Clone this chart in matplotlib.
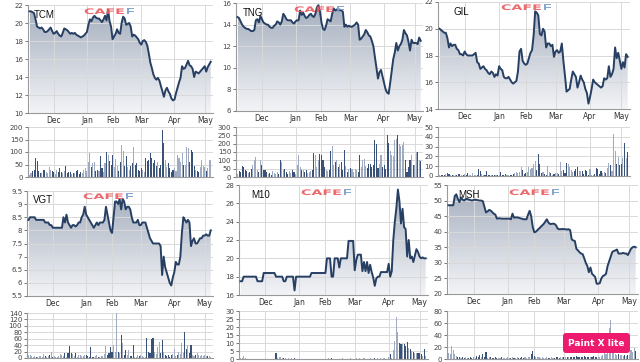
import numpy as np
import matplotlib
matplotlib.use("Agg")
import matplotlib.pyplot as plt
from matplotlib.colors import LinearSegmentedColormap
from matplotlib.patches import Polygon, PathPatch, FancyBboxPatch
from matplotlib.textpath import TextPath
from matplotlib.font_manager import FontProperties
from matplotlib.transforms import Affine2D, IdentityTransform
from matplotlib.ticker import FuncFormatter

# ---- data: one value per trading day, mid Nov -> early May ----
tcm_price = [21.3, 21.3, 21.2, 21.1, 20.4, 19.6, 19.5, 19.4, 19.5, 19.3,
             19.0, 19.0, 19.1, 19.3, 19.5, 19.1, 18.8, 18.9, 19.1, 18.8,
             18.6, 18.5, 18.9, 19.4, 19.3, 19.2, 19.0, 18.8, 18.9, 18.8,
             18.9, 18.7, 18.6, 18.5, 18.4, 18.5, 18.6, 18.8, 19.0, 19.8,
             20.4, 20.2, 20.6, 20.8, 20.6, 20.5, 20.5, 20.3, 20.1, 20.4,
             20.8, 20.3, 21.5, 20.2, 19.6, 18.2, 18.5, 18.8, 19.3, 18.9,
             18.8, 20.0, 20.7, 20.5, 19.8, 19.9, 20.0, 19.6, 18.5, 18.7,
             18.6, 18.4, 18.2, 17.8, 17.6, 18.0, 18.1, 17.9, 17.5, 16.6,
             15.6, 15.0, 14.3, 13.9, 13.7, 13.9, 13.6, 13.0, 12.4, 11.8,
             12.5, 12.8, 12.4, 12.1, 11.6, 11.4, 11.5, 12.2, 12.8, 13.4,
             13.9, 15.2, 14.9, 15.0, 15.4, 15.8, 15.3, 15.2, 14.9, 14.0,
             14.6, 14.5, 14.4, 14.6, 14.8, 15.0, 15.2, 14.6, 15.1, 15.4,
             15.7]
tng_price = [14.7, 14.6, 14.3, 14.0, 13.8, 13.7, 13.6, 13.6, 13.5, 13.4,
             13.4, 13.5, 14.4, 14.5, 14.2, 14.8, 14.5, 14.2, 14.1, 14.0,
             14.0, 13.8, 13.7, 13.7, 13.9, 14.0, 14.3, 14.2, 14.0, 14.3,
             15.0, 14.8, 14.5, 14.4, 14.4, 14.4, 14.2, 14.1, 14.3, 14.4,
             14.4, 15.3, 14.9, 15.1, 14.8, 14.6, 14.7, 14.9, 15.0, 14.8,
             14.7, 15.0, 15.6, 15.8, 15.2, 14.2, 13.6, 13.5, 13.9, 14.5,
             14.4, 14.3, 15.0, 15.5, 15.3, 15.4, 15.3, 15.4, 15.3, 15.2,
             13.8, 14.0, 13.8, 13.9, 13.8, 13.8, 13.9, 14.0, 14.2, 14.0,
             12.6, 12.7, 12.9, 13.1, 13.5, 13.3, 13.0, 12.9, 12.5, 12.0,
             11.0, 10.0, 9.0, 9.6, 9.8, 9.2, 8.6, 8.0, 7.7, 7.6,
             8.6, 9.7, 10.8, 11.4, 12.3, 11.6, 12.0, 12.2, 12.6, 13.5,
             13.2, 13.0, 12.4, 11.6, 12.6, 12.3, 12.3, 12.3, 12.2, 12.8,
             12.5]
gil_price = [20.0, 19.9, 19.8, 19.7, 19.7, 19.3, 18.6, 18.9, 18.7, 18.8,
             18.8, 18.5, 18.4, 18.1, 18.1, 18.0, 18.3, 18.1, 18.0, 18.0,
             18.0, 18.0, 18.1, 18.2, 17.5, 17.4, 17.0, 17.1, 17.2, 17.0,
             16.9, 16.7, 16.6, 16.8, 16.7, 16.4, 16.6, 16.5, 17.2, 17.0,
             16.9, 16.4, 16.3, 16.3, 16.4, 16.2, 16.0, 15.9, 16.0, 16.1,
             16.8, 18.3, 18.5, 17.6, 17.4, 17.3, 17.4, 17.8, 18.2, 18.4,
             19.5, 21.3, 21.2, 21.0, 19.6, 19.5, 20.0, 19.8, 18.6, 18.9,
             18.9, 18.7, 18.8, 17.9, 18.3, 18.4, 18.2, 18.3, 18.9, 17.6,
             16.5, 15.3, 15.4, 15.5, 16.2, 16.8, 16.6, 16.4, 15.6, 16.0,
             16.5, 16.2, 16.0, 15.5, 15.2, 14.4, 14.9, 15.5, 16.2, 16.0,
             15.9, 15.8, 15.7, 15.6, 15.7, 16.3, 16.2, 16.3, 17.2, 16.4,
             16.6, 17.0, 18.6, 17.8, 18.2, 17.6, 17.0, 17.5, 17.1, 18.1,
             17.9]
vgt_price = [8.4, 8.5, 8.5, 8.5, 8.5, 8.4, 8.4, 8.4, 8.4, 8.4,
             8.4, 8.3, 8.3, 8.3, 8.2, 8.2, 8.1, 8.1, 8.1, 8.1,
             8.1, 8.1, 8.1, 8.5, 8.3, 8.6, 8.3, 8.2, 8.1, 8.2,
             8.2, 8.15, 8.2, 8.3, 8.3, 8.5, 8.6, 8.9, 8.6, 8.5,
             8.4, 8.3, 8.2, 8.1, 8.2, 8.3, 8.2, 8.3, 8.3, 8.3,
             8.4, 8.9, 8.6, 8.3, 8.0, 7.9, 8.5, 9.1, 9.1, 9.0,
             9.2, 8.8, 9.2, 9.1, 8.8, 8.9, 8.9, 8.8, 8.5, 8.3,
             8.3, 8.3, 8.4, 8.2, 8.2, 8.3, 8.3, 8.3, 8.1, 7.9,
             7.7, 7.6, 7.5, 7.5, 7.5, 7.5, 7.5, 7.4, 6.3, 7.0,
             6.6, 6.4, 6.2, 6.0, 5.9, 6.2, 6.4, 6.8, 6.7, 6.7,
             7.0, 7.9, 8.5, 8.4, 8.3, 8.4, 8.3, 7.4, 7.6, 7.7,
             7.5, 7.5, 7.6, 7.7, 7.7, 7.8, 7.8, 7.85, 7.8, 7.8,
             8.0]
m10_price = [17.5, 17.5, 18.0, 18.0, 18.0, 18.0, 18.0, 18.0, 18.0, 18.0,
             18.0, 17.5, 17.5, 17.5, 17.5, 18.4, 18.4, 18.4, 18.4, 18.4,
             18.4, 18.4, 18.4, 18.0, 18.0, 18.0, 18.0, 18.0, 17.5, 17.5,
             18.0, 18.0, 18.0, 18.0, 18.0, 16.5, 18.0, 18.0, 18.0, 18.0,
             18.0, 18.0, 18.0, 18.0, 18.0, 18.0, 18.4, 18.4, 18.4, 18.4,
             18.4, 18.4, 18.4, 18.4, 18.4, 18.4, 20.0, 20.0, 20.0, 18.0,
             18.0, 20.0, 20.0, 20.0, 19.0, 20.0, 20.0, 20.0, 20.0, 20.0,
             21.9, 21.9, 21.9, 21.9, 18.7, 19.8, 20.4, 20.4, 20.4, 18.6,
             19.6, 18.6, 19.6, 18.4, 19.3, 18.5, 17.9, 17.0, 17.8, 18.0,
             18.0, 18.5, 18.5, 18.5, 18.5, 18.5, 19.4, 18.0, 18.6, 22.0,
             24.0, 25.5, 27.5, 26.2, 23.8, 25.4, 23.4, 23.2, 20.2, 22.0,
             20.0, 20.2, 19.6, 20.3, 21.0, 20.7, 20.2, 20.0, 20.1, 20.0,
             20.0]
msh_price = [48.5, 48.5, 48.5, 48.5, 51.5, 52.0, 50.5, 49.5, 51.0, 50.3,
             50.0, 50.5, 50.5, 50.3, 50.2, 50.0, 50.2, 50.3, 50.2, 50.1,
             50.0, 50.0, 49.8, 48.0, 46.2, 46.5, 47.0, 46.8, 46.3, 45.8,
             45.5, 44.2, 44.3, 44.3, 44.2, 44.2, 44.2, 44.2, 44.2, 44.2,
             44.0, 45.8, 44.5, 44.6, 44.6, 44.5, 44.3, 44.2, 44.0, 44.0,
             44.0, 45.5, 46.7, 45.0, 41.5, 39.8, 40.0, 40.5, 41.0, 41.5,
             42.0, 42.5, 43.2, 44.0, 43.0, 42.5, 42.5, 42.6, 42.5, 42.0,
             41.0, 40.8, 40.8, 40.9, 40.8, 40.8, 40.7, 40.8, 40.5, 37.5,
             37.2, 37.0, 34.5, 34.0, 33.4, 33.0, 32.8, 31.5, 30.0, 29.0,
             27.0, 28.5, 26.5, 26.0, 25.5, 23.3, 23.3, 23.5, 25.0, 25.8,
             26.0, 26.5, 29.0, 30.5, 32.0, 33.5, 33.8, 34.0, 34.3, 33.0,
             33.0, 33.0, 33.2, 33.0, 33.0, 32.5, 33.5, 34.5, 35.0, 35.2,
             35.0]

tcm_vol = [10, 15, 25, 30, 75, 65, 25, 15, 15, 28,
           28, 20, 15, 40, 30, 25, 22, 12, 30, 20,
           35, 20, 18, 25, 45, 15, 20, 20, 12, 15,
           18, 25, 30, 12, 20, 15, 30, 38, 25, 60,
           95, 40, 55, 60, 25, 30, 25, 85, 35, 20,
           55, 100, 90, 65, 50, 90, 40, 72, 45, 25,
           60, 130, 105, 45, 85, 40, 30, 45, 55, 120,
           50, 55, 30, 25, 35, 30, 20, 75, 65, 70,
           95, 75, 55, 70, 45, 60, 35, 50, 190, 135,
           70, 40, 55, 35, 20, 30, 35, 25, 90, 75,
           60, 95, 50, 50, 120, 118, 60, 110, 100, 45,
           30, 25, 20, 40, 70, 45, 40, 25, 35, 70,
           68]
tng_vol = [20, 35, 30, 65, 60, 40, 35, 25, 30, 50,
           75, 100, 120, 40, 30, 100, 70, 45, 40, 30,
           20, 25, 15, 35, 25, 20, 30, 20, 100, 90,
           45, 50, 30, 20, 35, 25, 40, 30, 20, 75,
           130, 60, 45, 40, 30, 45, 25, 30, 35, 40,
           145, 130, 60, 100, 140, 130, 100, 60, 40, 35,
           40, 155, 185, 70, 90, 105, 60, 80, 90, 40,
           165, 65, 30, 50, 55, 50, 30, 50, 40, 30,
           135, 60, 105, 110, 65, 55, 80, 80, 60, 70,
           225, 200, 55, 80, 130, 60, 70, 50, 255, 205,
           155, 130, 125, 225, 230, 255, 200, 185, 190, 210,
           105, 30, 60, 105, 130, 75, 70, 150, 150, 100,
           95]
gil_vol = [1, 1, 1, 1, 2, 3, 2, 1, 1, 1,
           1, 1, 2, 2, 1, 1, 2, 1, 3, 1,
           1, 3, 1, 1, 1, 7, 5, 2, 1, 1,
           5, 1, 1, 1, 1, 1, 1, 1, 1, 4,
           1, 1, 2, 1, 1, 1, 1, 2, 3, 4,
           3, 4, 9, 6, 2, 3, 4, 9, 7, 8,
           12, 15, 6, 22, 12, 3, 4, 2, 1, 10,
           4, 3, 1, 2, 3, 3, 2, 14, 5, 6,
           3, 13, 12, 9, 6, 4, 5, 7, 9, 5,
           5, 5, 2, 6, 5, 1, 7, 1, 1, 2,
           8, 7, 2, 5, 3, 4, 3, 8, 13, 11,
           5, 43, 26, 12, 19, 11, 12, 18, 34, 18,
           24]
vgt_vol = [10, 8, 7, 3, 5, 4, 3, 6, 5, 4,
           12, 5, 3, 6, 8, 20, 3, 5, 4, 2,
           5, 12, 10, 6, 15, 4, 15, 38, 15, 12,
           5, 15, 3, 10, 8, 5, 6, 8, 10, 5,
           3, 33, 2, 3, 5, 8, 4, 3, 5, 6,
           12, 38, 10, 15, 35, 20, 40, 18, 140, 20,
           15, 73, 48, 10, 25, 8, 25, 6, 5, 42,
           4, 3, 10, 5, 10, 6, 4, 3, 63, 20,
           15, 58, 62, 20, 12, 35, 50, 15, 55, 20,
           8, 6, 10, 4, 10, 12, 28, 6, 10, 20,
           12, 48, 15, 82, 28, 40, 15, 42, 8, 6,
           10, 15, 8, 6, 10, 5, 8, 6, 5, 7,
           4]
m10_vol = [0.5, 0.5, 2, 0.5, 0, 0, 0, 0.3, 0, 0,
           0, 0.3, 0, 0, 0.3, 0, 0.3, 0, 0, 0,
           0, 0, 0, 3.5, 0.5, 1.5, 1, 0.5, 0.5, 0.5,
           0.3, 0.5, 0.3, 0.5, 0.3, 0.5, 0, 0, 0, 0,
           0, 0, 0, 0, 0, 0.3, 0, 0, 0, 0,
           0, 0, 0, 0.3, 0, 0, 0.3, 0.5, 0.3, 0.5,
           0, 0.3, 0, 0, 0.3, 0, 0.5, 0, 0.3, 0.3,
           0, 0.5, 0.3, 0, 0.3, 0.5, 0.3, 0.5, 0, 0.3,
           0.5, 0.3, 0, 0.3, 0.5, 0.3, 0.3, 0.5, 0.3, 0.5,
           0.3, 0.5, 0.3, 0.5, 0.3, 0, 1, 3, 0.5, 5.5,
           11, 26, 17, 10, 9.5, 9.5, 9.5, 8, 10.5, 7,
           6, 5, 4.5, 4, 4, 3.5, 3.5, 3, 2, 6,
           2]
msh_vol = [10, 8, 22, 15, 8, 5, 3, 4, 2, 3,
           2, 3, 2, 2, 3, 2, 4, 2, 5, 3,
           6, 4, 8, 3, 11, 2, 3, 3, 2, 2,
           3, 2, 2, 2, 3, 2, 2, 2, 3, 2,
           2, 3, 2, 2, 3, 2, 2, 3, 2, 3,
           2, 3, 4, 8, 13, 5, 4, 3, 3, 2,
           3, 2, 2, 3, 2, 2, 3, 2, 2, 3,
           3, 2, 3, 4, 3, 3, 4, 3, 4, 3,
           4, 3, 5, 4, 4, 3, 4, 5, 4, 3,
           4, 3, 4, 5, 4, 4, 3, 4, 5, 6,
           42, 8, 10, 52, 65, 12, 10, 8, 6, 8,
           7, 6, 5, 6, 5, 7, 6, 15, 12, 18,
           13]

tickers = ["TCM", "TNG", "GIL", "VGT", "M10", "MSH"]
prices = [tcm_price, tng_price, gil_price, vgt_price, m10_price, msh_price]
volumes = [tcm_vol, tng_vol, gil_vol, vgt_vol, m10_vol, msh_vol]
price_range = [(10, 22, 2), (6, 16, 2), (14, 22, 2), (5.5, 9.5, 0.5), (16, 28, 2), (20, 55, 5)]
vol_range = [(200, 50), (300, 50), (50, 10), (140, 20), (30, 5), (80, 20)]

months = ["Dec", "Jan", "Feb", "Mar", "Apr", "May"]
month_pos = [16, 38, 55, 74, 96, 116]  # trading day where each month starts

# ---- layout in pixels (left, top, right, bottom) ----
W, H = 640, 362
price_box = [(28, 5, 213, 113), (236, 3, 423, 111), (438, 2, 630, 109),
             (27, 191, 213, 296), (239, 185, 428, 295), (447, 185, 638, 294)]
vol_box = [(28, 127, 213, 177), (236, 127, 423, 177), (438, 127, 630, 176),
           (27, 313, 213, 358), (239, 311, 428, 359), (447, 311, 638, 359)]
name_xy = [(34, 15), (243, 13), (453, 12), (33, 200), (251, 195), (458, 195)]
logo_xy = [(84, 14), (294, 12), (501, 10), (83, 199), (301, 195), (509, 195)]

LINE = "#263f63"
GRID = "#d9d9d9"
LIGHT_BAR = "#9eabc1"
DARK_BAR = "#3b5278"

fill_cmap = LinearSegmentedColormap.from_list("fill", ["#f3f4f7", "#a3adbd"])
gradient = np.linspace(0, 1, 256).reshape(-1, 1)


def frac(box):
    l, t, r, b = box
    return [l / W, 1 - b / H, (r - l) / W, (b - t) / H]


def style_axes(ax):
    for side in ["top", "right"]:
        ax.spines[side].set_visible(False)
    for side in ["left", "bottom"]:
        ax.spines[side].set_color("#9a9a9a")
        ax.spines[side].set_linewidth(0.8)
    ax.tick_params(axis="y", length=2.5, width=0.7, color="#777777",
                   labelsize=5, labelcolor="#444444", pad=1)
    ax.tick_params(axis="x", length=0, labelsize=5.5, labelcolor="#333333", pad=2.5)
    ax.grid(True, color=GRID, linewidth=0.7)
    ax.set_xlim(-1, 121.5)
    ax.set_xticks(month_pos)


def draw_logo(x, y):
    # CafeF watermark, stretched wide like the original
    fp = FontProperties(family="DejaVu Sans", weight="bold")
    p1 = TextPath((0, 0), "CAFE", size=10, prop=fp)
    p2 = TextPath((0, 0), "F", size=10, prop=fp)
    w1 = p1.get_extents().x1 + 1.2
    total = w1 + p2.get_extents().x1
    sx = 50 / total
    sy = 5.6 / 7.3
    for path, dx, col in [(p1, 0, "#e85a5e"), (p2, w1, "#7a9bcc")]:
        tr = Affine2D().translate(dx, 0).scale(sx, sy).translate(x, H - y)
        fig.add_artist(PathPatch(path, facecolor=col, edgecolor="none", alpha=0.9,
                                 transform=tr + IdentityTransform()))


fig = plt.figure(figsize=(W / 100, H / 100), dpi=100)

for i in range(6):
    price = np.array(prices[i])
    vol = np.array(volumes[i])
    days = np.arange(len(price))
    lo, hi, step = price_range[i]

    ax = fig.add_axes(frac(price_box[i]))
    im = ax.imshow(gradient, extent=(days[0], days[-1], lo, hi), origin="lower",
                   cmap=fill_cmap, aspect="auto", zorder=1)
    verts = [(days[0], lo)] + list(zip(days, price)) + [(days[-1], lo)]
    shape = Polygon(verts, closed=True, facecolor="none", edgecolor="none")
    ax.add_patch(shape)
    im.set_clip_path(shape)
    ax.plot(days, price, color=LINE, linewidth=1.4, zorder=3)
    style_axes(ax)
    ax.set_axisbelow(False)
    ax.set_ylim(lo, hi)
    ax.set_yticks(np.arange(lo, hi + step / 2, step))
    ax.yaxis.set_major_formatter(FuncFormatter(lambda v, p: "%g" % v))
    ax.set_xticklabels(months)

    vtop, vstep = vol_range[i]
    axv = fig.add_axes(frac(vol_box[i]))
    up = np.r_[True, np.diff(price) >= 0]
    colors = np.where(up, LIGHT_BAR, DARK_BAR)
    axv.bar(days, vol, width=0.7, color=colors, linewidth=0, zorder=2)
    style_axes(axv)
    axv.set_axisbelow(True)
    axv.set_ylim(0, vtop)
    axv.set_yticks(np.arange(0, vtop + 1, vstep))
    axv.set_xticklabels([])

    nx, ny = name_xy[i]
    fig.text(nx / W, 1 - ny / H, tickers[i], fontsize=7, family="Liberation Sans",
             color="#111111", va="center", ha="left")
    draw_logo(*logo_xy[i])

# "Paint X lite" badge in the lower right corner
badge = FancyBboxPatch((563, H - 353), 67, 20, boxstyle="round,pad=0,rounding_size=3",
                       facecolor="#ee1a6d", edgecolor="none",
                       transform=IdentityTransform())
fig.add_artist(badge)
fig.text(596.5 / W, 1 - 343 / H, "Paint X lite", fontsize=6.5, fontweight="bold",
         color="white", ha="center", va="center")

fig.savefig("out.png", dpi=100)
